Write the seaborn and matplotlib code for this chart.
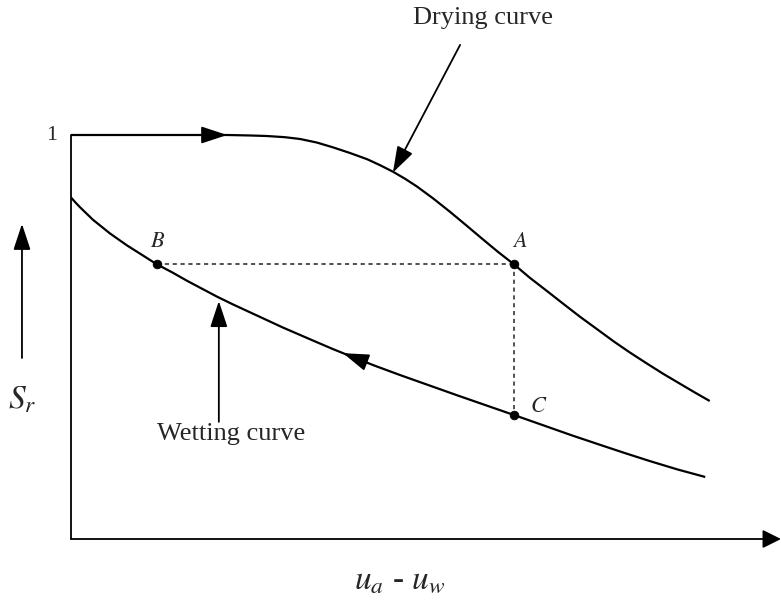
import numpy as np
import pandas as pd
import matplotlib
matplotlib.use("Agg")
import matplotlib.pyplot as plt
import seaborn as sns

# Soil-water characteristic curves (schematic): suction vs. degree of saturation
drying_suction = [0.0, 1.23, 2.44, 2.80, 3.06, 3.34, 3.58, 3.84, 4.09, 4.36,
                  4.63, 4.83, 5.03, 5.22, 5.41, 5.66, 5.92, 6.17, 6.42, 6.67,
                  6.92, 7.17, 7.44, 7.69, 7.95, 8.22, 8.48, 8.73, 9.00, 9.25,
                  9.52, 9.75, 9.98]
drying_sr = [1.0, 1.0, 1.0, 0.9988, 0.9975, 0.9946, 0.9901, 0.9814, 0.9696,
             0.9554, 0.9399, 0.9252, 0.9092, 0.8916, 0.8720, 0.8428, 0.8101,
             0.7772, 0.7438, 0.7109, 0.680, 0.6465, 0.6134, 0.5824, 0.5505,
             0.5193, 0.4891, 0.4619, 0.4342, 0.4092, 0.3839, 0.3624, 0.3416]

wetting_suction = [0.0, 0.07, 0.14, 0.34, 0.61, 0.875, 1.09, 1.34, 1.58, 1.81,
                   2.05, 2.28, 2.53, 2.80, 3.05, 3.31, 3.58, 3.83, 4.09, 4.36,
                   4.75, 5.14, 5.58, 6.03, 6.47, 6.92, 7.38, 7.81, 8.27, 8.66,
                   9.05, 9.48, 9.91]
wetting_sr = [0.8453, 0.8329, 0.8213, 0.7906, 0.7562, 0.7267, 0.7052, 0.680,
              0.6601, 0.6394, 0.6193, 0.600, 0.5807, 0.5609, 0.5426, 0.5235,
              0.5050, 0.4879, 0.4703, 0.4530, 0.4287, 0.4059, 0.3812, 0.3559,
              0.3317, 0.307, 0.2814, 0.2574, 0.2329, 0.2124, 0.1926, 0.1720,
              0.1535]

point_names = ["A", "B", "C"]
point_suction = [6.92, 1.34, 6.92]
point_sr = [0.680, 0.680, 0.307]

sns.set_theme(style="white")
plt.rcParams["font.family"] = ["Liberation Serif", "DejaVu Serif"]
plt.rcParams["mathtext.fontset"] = "stix"

fig = plt.figure(figsize=(7.81, 6.02), dpi=100)
ax = fig.add_axes([71 / 781, 63 / 602, 710 / 781, 539 / 602])
xmax, ymax = 710 / 64, 539 / 404
ax.set_xlim(0, xmax)
ax.set_ylim(0, ymax)
ax.axis("off")

drying = pd.DataFrame({"suction": drying_suction, "Sr": drying_sr})
wetting = pd.DataFrame({"suction": wetting_suction, "Sr": wetting_sr})
pts = pd.DataFrame({"name": point_names, "suction": point_suction, "Sr": point_sr})

curve_kw = dict(color="black", lw=1.6, sort=False, estimator=None,
                solid_joinstyle="round", solid_capstyle="butt")
sns.lineplot(data=drying, x="suction", y="Sr", ax=ax, **curve_kw)
sns.lineplot(data=wetting, x="suction", y="Sr", ax=ax, **curve_kw)

# construction lines B -> A -> C
pa, pb, pc = (pts.iloc[i] for i in range(3))
ax.plot([pb.suction, pa.suction], [pb.Sr, pa.Sr], color="#333333", lw=1.2,
        dashes=(2.5, 2.2))
ax.plot([pa.suction, pc.suction], [pa.Sr, pc.Sr], color="#333333", lw=1.2,
        dashes=(2.5, 2.2))
sns.scatterplot(data=pts, x="suction", y="Sr", ax=ax, color="black", s=40,
                edgecolor="black", zorder=5, legend=False)

# axes drawn as lines with an arrow on the suction axis
ax.plot([0, 0], [0, 1.0], color="black", lw=1.3, clip_on=False)
ax.annotate("", xy=(xmax, 0), xytext=(0, 0), annotation_clip=False,
            arrowprops=dict(arrowstyle="-|>,head_length=0.8,head_width=0.4",
                            mutation_scale=14, color="black", lw=1.3,
                            shrinkA=0, shrinkB=0))

head = dict(arrowstyle="-|>,head_length=1.0,head_width=0.33", mutation_scale=16,
            color="black", lw=1.3, shrinkA=0, shrinkB=0)

# direction arrows along the curves
ax.annotate("", xy=(2.44, 1.0), xytext=(1.95, 1.0), annotation_clip=False,
            arrowprops=head)
ax.annotate("", xy=(4.25, 0.460), xytext=(4.64, 0.436), annotation_clip=False,
            arrowprops=head)

# callouts
ax.annotate("", xy=(5.03, 0.907), xytext=(6.08, 1.223), annotation_clip=False,
            arrowprops=head)
ax.text(6.44, 1.29, "Drying curve", ha="center", va="center", fontsize=19)
ax.annotate("", xy=(2.31, 0.589), xytext=(2.31, 0.290), annotation_clip=False,
            arrowprops=head)
ax.text(2.5, 0.260, "Wetting curve", ha="center", va="center", fontsize=19)

# S_r indicator arrow left of the axis
ax.annotate("", xy=(-0.766, 0.780), xytext=(-0.766, 0.448), annotation_clip=False,
            arrowprops=head)

# labels
ax.text(-0.30, 1.0, "1", ha="center", va="center", fontsize=16, clip_on=False)
ax.text(7.02, 0.733, "$A$", ha="center", va="center", fontsize=16)
ax.text(1.36, 0.735, "$B$", ha="center", va="center", fontsize=16)
ax.text(7.30, 0.326, "$C$", ha="center", va="center", fontsize=16)
ax.text(-0.77, 0.344, "$S_r$", ha="center", va="center", fontsize=24, clip_on=False)
ax.text(5.14, -0.101, "$u_a$ - $u_w$", ha="center", va="center", fontsize=24,
        clip_on=False)

fig.savefig("out.png", dpi=100)
